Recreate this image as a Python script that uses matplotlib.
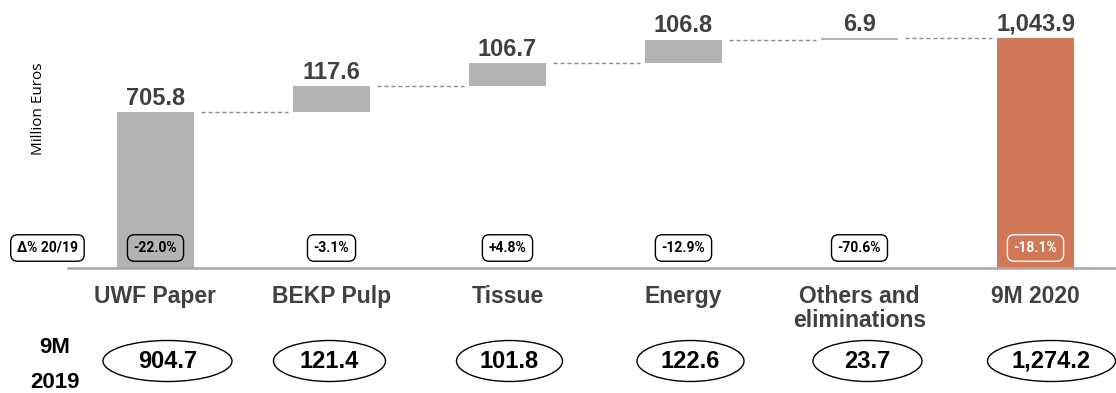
import matplotlib
matplotlib.use("Agg")
import matplotlib.pyplot as plt
from matplotlib.patches import Ellipse
from matplotlib import transforms

# Net sales bridge, 9M 2020 (million euros)
categories = ["UWF Paper", "BEKP Pulp", "Tissue", "Energy", "Others and\neliminations", "9M 2020"]
values_2020 = [705.8, 117.6, 106.7, 106.8, 6.9, 1043.9]
value_labels = ["705.8", "117.6", "106.7", "106.8", "6.9", "1,043.9"]
delta_labels = ["-22.0%", "-3.1%", "+4.8%", "-12.9%", "-70.6%", "-18.1%"]
values_2019_labels = ["904.7", "121.4", "101.8", "122.6", "23.7", "1,274.2"]

W, H = 1116, 393
fig = plt.figure(figsize=(W / 100, H / 100), dpi=100)

GRAY = "#b3b3b3"
ORANGE = "#d17857"
DARK = "#404040"
BOLD = ["Liberation Sans", "DejaVu Sans"]
SMALL = ["Roboto", "DejaVu Sans"]

base_px = 267.5
ax = fig.add_axes([0, 1 - base_px / H, 1, base_px / H])
step_px, first_px = 176.0, 155.5
ax.set_xlim(-first_px / step_px, (W - first_px) / step_px)
ax.set_ylim(0, 1216.8)
ax.axis("off")

n = len(categories)
xs = list(range(n))
bar_w = 77 / step_px

# waterfall bars: first and last from zero, the rest floating on running total
bottoms, tops = [], []
running = 0.0
for i, v in enumerate(values_2020):
    if i == 0 or i == n - 1:
        b = 0.0
        running = v
    else:
        b = running
        running += v
    bottoms.append(b)
    tops.append(b + v)

colors = [GRAY] * (n - 1) + [ORANGE]
ax.bar(xs, values_2020, bottom=bottoms, width=bar_w, color=colors, zorder=2)

# dashed connectors between consecutive bars
for i in range(n - 1):
    level = tops[i]
    ax.plot([xs[i] + bar_w / 2 + 0.04, xs[i + 1] - bar_w / 2 - 0.03], [level, level],
            color="#8c8c8c", lw=1.0, ls=(0, (3, 2)), zorder=1)

# value labels above bars
for i in range(n):
    ax.annotate(value_labels[i], (xs[i], tops[i]), xytext=(0, 1.5), textcoords="offset points",
                ha="center", va="bottom", fontsize=17, fontweight="bold",
                color=DARK, family=BOLD)

# baseline
ax.axhline(0, xmin=68 / W, xmax=1, color="#a6a6a6", lw=1.8, zorder=3, clip_on=False)

# axis caption
fig.text(38 / W, 1 - 109 / H, "Million Euros", rotation=90, ha="center", va="center",
         fontsize=11, family=["Open Sans", "DejaVu Sans"], color="black")

blend = transforms.blended_transform_factory(ax.transData, fig.transFigure)

def fy(py):
    return 1 - py / H

# year-on-year change boxes
box_y = fy(248)
ax.text(-0.614, box_y, "Δ% 20/19", transform=blend, ha="center", va="center",
        fontsize=10, fontweight="bold", family=SMALL, color="black",
        bbox=dict(boxstyle="round,pad=0.45,rounding_size=0.5", fc="white", ec="black", lw=1))
for i in range(n):
    last = i == n - 1
    ax.text(xs[i], box_y, delta_labels[i], transform=blend, ha="center", va="center",
            fontsize=10, fontweight="bold", family=SMALL,
            color="white" if last else "black",
            bbox=dict(boxstyle="round,pad=0.45,rounding_size=0.5",
                      fc="none", ec="white" if last else "black", lw=1))

# category labels
for i in range(n):
    ax.text(xs[i], fy(285), categories[i], transform=blend, ha="center", va="top",
            fontsize=16.5, fontweight="bold", family=BOLD, color=DARK, linespacing=1.05)

# prior-year values in ellipses
ell_w = [129, 112, 106, 107, 109, 128]
ell_dx = [12, -2, 2, 7, 8, 16]
ell_y = fy(361)
fig.text(55 / W, fy(365), "9M\n2019", ha="center", va="center", fontsize=16,
         fontweight="bold", family=BOLD, color="black", linespacing=1.85)
for i in range(n):
    cx = xs[i] + ell_dx[i] / step_px
    e = Ellipse((cx, ell_y), ell_w[i] / step_px, 41 / H, transform=blend,
                fc="white", ec="black", lw=1.0, clip_on=False, zorder=4)
    ax.add_patch(e)
    ax.text(cx, ell_y, values_2019_labels[i], transform=blend, ha="center", va="center",
            fontsize=17, fontweight="bold", family=BOLD, color="black", zorder=5)

fig.savefig("out.png", dpi=100)
